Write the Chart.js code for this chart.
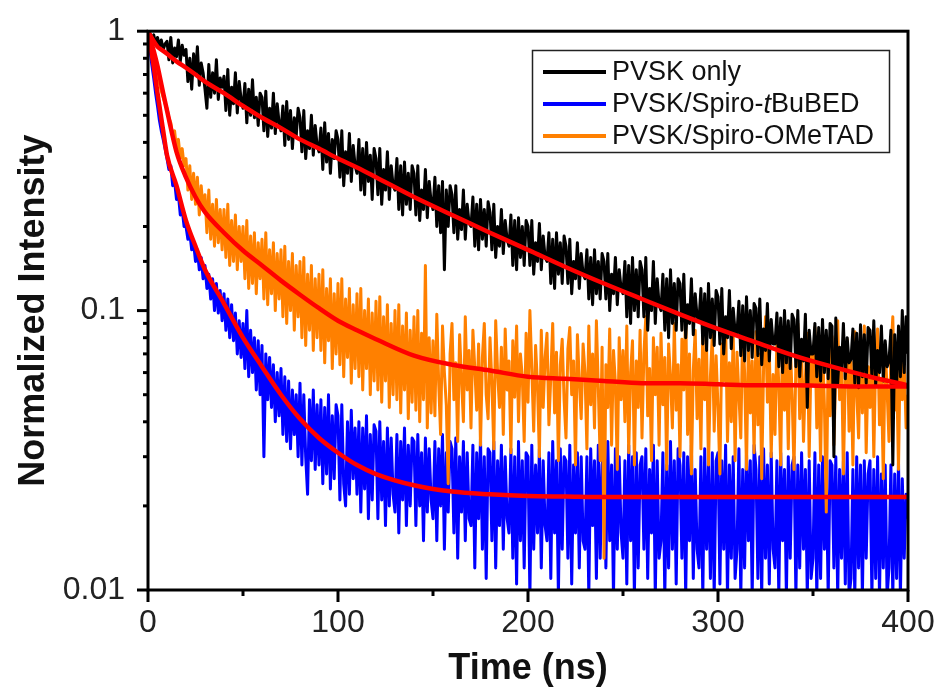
<!DOCTYPE html>
<html>
<head>
<meta charset="utf-8">
<title>PL decay</title>
<script src="https://cdn.jsdelivr.net/npm/chart.js@4.4.1/dist/chart.umd.min.js"></script>
<style>
  html, body { margin: 0; padding: 0; background: #fff; }
</style>
</head>
<body>
<canvas id="decayChart" width="941" height="695"></canvas>
<script>
// --- Data (one value per ns) ---
const sampleStep = 1;

const pvskOnly = [
  1.00, 0.98, 0.94, 0.97, 0.90, 0.95, 0.88, 0.93, 0.86, 0.90,
  0.92, 0.79, 0.95, 0.77, 0.87, 0.81, 0.93, 0.78, 0.89, 0.82,
  0.86, 0.66, 0.80, 0.62, 0.83, 0.70, 0.88, 0.64, 0.77, 0.71,
  0.62, 0.53, 0.76, 0.58, 0.71, 0.60, 0.79, 0.57, 0.68, 0.63,
  0.69, 0.52, 0.73, 0.50, 0.63, 0.55, 0.71, 0.51, 0.66, 0.57,
  0.53, 0.65, 0.47, 0.62, 0.50, 0.67, 0.49, 0.58, 0.46, 0.60,
  0.58, 0.44, 0.61, 0.42, 0.53, 0.45, 0.60, 0.43, 0.55, 0.47,
  0.44, 0.54, 0.39, 0.56, 0.41, 0.52, 0.38, 0.49, 0.42, 0.53,
  0.49, 0.37, 0.52, 0.35, 0.44, 0.38, 0.50, 0.36, 0.46, 0.39,
  0.37, 0.45, 0.32, 0.47, 0.34, 0.43, 0.31, 0.41, 0.35, 0.44,
  0.41, 0.30, 0.44, 0.28, 0.37, 0.31, 0.43, 0.29, 0.39, 0.33,
  0.31, 0.41, 0.27, 0.38, 0.26, 0.40, 0.29, 0.36, 0.25, 0.38,
  0.35, 0.26, 0.38, 0.24, 0.32, 0.27, 0.37, 0.25, 0.33, 0.28,
  0.27, 0.35, 0.23, 0.33, 0.22, 0.34, 0.24, 0.31, 0.23, 0.33,
  0.31, 0.22, 0.33, 0.21, 0.27, 0.23, 0.32, 0.215, 0.29, 0.245,
  0.23, 0.30, 0.20, 0.28, 0.19, 0.29, 0.14, 0.27, 0.20, 0.28,
  0.26, 0.19, 0.28, 0.18, 0.23, 0.195, 0.27, 0.18, 0.24, 0.205,
  0.20, 0.255, 0.17, 0.24, 0.165, 0.25, 0.18, 0.23, 0.17, 0.245,
  0.225, 0.165, 0.24, 0.155, 0.20, 0.17, 0.23, 0.16, 0.21, 0.18,
  0.17, 0.22, 0.145, 0.21, 0.14, 0.215, 0.155, 0.20, 0.145, 0.21,
  0.20, 0.145, 0.21, 0.135, 0.175, 0.15, 0.205, 0.14, 0.185, 0.155,
  0.15, 0.19, 0.125, 0.18, 0.12, 0.19, 0.135, 0.175, 0.125, 0.185,
  0.17, 0.125, 0.18, 0.115, 0.15, 0.13, 0.175, 0.12, 0.16, 0.135,
  0.13, 0.165, 0.11, 0.155, 0.105, 0.165, 0.115, 0.15, 0.11, 0.16,
  0.15, 0.11, 0.16, 0.10, 0.135, 0.115, 0.155, 0.105, 0.14, 0.12,
  0.115, 0.15, 0.095, 0.145, 0.09, 0.155, 0.10, 0.14, 0.095, 0.15,
  0.14, 0.095, 0.155, 0.085, 0.12, 0.10, 0.15, 0.09, 0.13, 0.105,
  0.10, 0.135, 0.085, 0.13, 0.08, 0.14, 0.09, 0.125, 0.085, 0.13,
  0.125, 0.085, 0.135, 0.08, 0.105, 0.09, 0.13, 0.082, 0.115, 0.095,
  0.092, 0.12, 0.076, 0.115, 0.072, 0.125, 0.08, 0.11, 0.075, 0.118,
  0.112, 0.076, 0.12, 0.07, 0.095, 0.08, 0.118, 0.073, 0.102, 0.084,
  0.083, 0.108, 0.069, 0.104, 0.066, 0.112, 0.072, 0.10, 0.068, 0.106,
  0.102, 0.069, 0.11, 0.064, 0.086, 0.072, 0.106, 0.066, 0.093, 0.076,
  0.076, 0.098, 0.063, 0.094, 0.06, 0.10, 0.065, 0.092, 0.062, 0.097,
  0.093, 0.063, 0.10, 0.058, 0.079, 0.066, 0.097, 0.045, 0.085, 0.07,
  0.07, 0.09, 0.058, 0.087, 0.056, 0.093, 0.06, 0.085, 0.057, 0.09,
  0.088, 0.03, 0.094, 0.055, 0.074, 0.062, 0.09, 0.057, 0.08, 0.065,
  0.067, 0.086, 0.055, 0.083, 0.053, 0.089, 0.058, 0.082, 0.055, 0.087,
  0.085, 0.058, 0.092, 0.054, 0.072, 0.06, 0.088, 0.056, 0.078, 0.063,
  0.066, 0.085, 0.028, 0.082, 0.054, 0.088, 0.058, 0.10, 0.06, 0.095,
  0.07
];

const pvskTbubed = [
  1.00, 0.86, 0.76, 0.68, 0.60, 0.54, 0.48, 0.44, 0.41, 0.38,
  0.35, 0.32, 0.33, 0.28, 0.29, 0.25, 0.26, 0.22, 0.23, 0.20,
  0.20, 0.18, 0.19, 0.165, 0.175, 0.15, 0.165, 0.14, 0.155, 0.13,
  0.145, 0.12, 0.135, 0.11, 0.13, 0.10, 0.125, 0.098, 0.118, 0.092,
  0.115, 0.085, 0.11, 0.08, 0.105, 0.078, 0.098, 0.07, 0.092, 0.068,
  0.09, 0.062, 0.10, 0.058, 0.085, 0.06, 0.08, 0.052, 0.078, 0.05,
  0.075, 0.03, 0.07, 0.048, 0.068, 0.045, 0.064, 0.04, 0.06, 0.042,
  0.062, 0.036, 0.058, 0.034, 0.056, 0.032, 0.052, 0.036, 0.05, 0.03,
  0.055, 0.028, 0.05, 0.03, 0.022, 0.048, 0.029, 0.052, 0.027, 0.046,
  0.028, 0.048, 0.024, 0.045, 0.026, 0.05, 0.023, 0.042, 0.025, 0.046,
  0.042, 0.021, 0.046, 0.024, 0.02, 0.04, 0.022, 0.044, 0.025, 0.038,
  0.022, 0.04, 0.019, 0.038, 0.023, 0.042, 0.018, 0.036, 0.021, 0.039,
  0.037, 0.018, 0.04, 0.021, 0.034, 0.017, 0.038, 0.02, 0.035, 0.022,
  0.019, 0.036, 0.016, 0.034, 0.021, 0.038, 0.017, 0.033, 0.02, 0.035,
  0.034, 0.017, 0.036, 0.02, 0.031, 0.015, 0.035, 0.019, 0.032, 0.021,
  0.018, 0.034, 0.015, 0.032, 0.02, 0.036, 0.014, 0.031, 0.019, 0.034,
  0.032, 0.016, 0.035, 0.013, 0.03, 0.019, 0.034, 0.015, 0.031, 0.018,
  0.017, 0.033, 0.012, 0.031, 0.018, 0.035, 0.014, 0.03, 0.011, 0.032,
  0.031, 0.015, 0.034, 0.012, 0.029, 0.017, 0.033, 0.014, 0.03, 0.018,
  0.016, 0.032, 0.013, 0.03, 0.0105, 0.034, 0.015, 0.029, 0.012, 0.031,
  0.03, 0.0095, 0.033, 0.014, 0.028, 0.016, 0.032, 0.012, 0.029, 0.017,
  0.015, 0.031, 0.011, 0.034, 0.016, 0.029, 0.0095, 0.032, 0.014, 0.03,
  0.029, 0.013, 0.033, 0.0105, 0.028, 0.016, 0.031, 0.012, 0.03, 0.015,
  0.014, 0.03, 0.0095, 0.032, 0.017, 0.029, 0.011, 0.033, 0.013, 0.028,
  0.031, 0.012, 0.034, 0.015, 0.028, 0.0095, 0.032, 0.014, 0.03, 0.016,
  0.013, 0.029, 0.0105, 0.033, 0.015, 0.03, 0.0095, 0.031, 0.012, 0.028,
  0.03, 0.014, 0.032, 0.011, 0.027, 0.016, 0.033, 0.0095, 0.029, 0.013,
  0.015, 0.031, 0.0095, 0.028, 0.012, 0.034, 0.014, 0.029, 0.0105, 0.032,
  0.028, 0.013, 0.031, 0.0095, 0.03, 0.015, 0.033, 0.011, 0.027, 0.014,
  0.012, 0.03, 0.0095, 0.032, 0.014, 0.028, 0.011, 0.031, 0.0095, 0.029,
  0.031, 0.0105, 0.029, 0.014, 0.033, 0.0095, 0.028, 0.013, 0.03, 0.011,
  0.014, 0.032, 0.0095, 0.027, 0.012, 0.031, 0.015, 0.029, 0.0095, 0.033,
  0.027, 0.011, 0.03, 0.0095, 0.032, 0.013, 0.028, 0.0105, 0.031, 0.014,
  0.012, 0.029, 0.0095, 0.031, 0.015, 0.027, 0.0095, 0.03, 0.013, 0.028,
  0.03, 0.0095, 0.028, 0.012, 0.031, 0.014, 0.027, 0.0095, 0.029, 0.011,
  0.013, 0.031, 0.0095, 0.028, 0.011, 0.03, 0.014, 0.026, 0.0095, 0.029,
  0.028, 0.012, 0.03, 0.0095, 0.027, 0.013, 0.029, 0.0105, 0.031, 0.0095,
  0.011, 0.027, 0.0095, 0.03, 0.012, 0.028, 0.0095, 0.029, 0.013, 0.026,
  0.029, 0.0095, 0.027, 0.011, 0.03, 0.0095, 0.026, 0.012, 0.028, 0.0095,
  0.012, 0.028, 0.0095, 0.026, 0.011, 0.029, 0.0095, 0.025, 0.013, 0.022,
  0.018
];

const pvskOmetad = [
  1.00, 0.93, 0.86, 0.80, 0.74, 0.70, 0.65, 0.61, 0.58, 0.55,
  0.53, 0.49, 0.47, 0.42, 0.44, 0.38, 0.41, 0.35, 0.38, 0.33,
  0.35, 0.27, 0.33, 0.25, 0.31, 0.24, 0.30, 0.22, 0.28, 0.23,
  0.26, 0.19, 0.27, 0.18, 0.24, 0.17, 0.25, 0.175, 0.23, 0.165,
  0.23, 0.155, 0.24, 0.145, 0.21, 0.15, 0.22, 0.14, 0.20, 0.15,
  0.20, 0.13, 0.21, 0.12, 0.185, 0.125, 0.19, 0.115, 0.175, 0.13,
  0.18, 0.11, 0.19, 0.105, 0.165, 0.115, 0.175, 0.10, 0.16, 0.11,
  0.165, 0.095, 0.17, 0.09, 0.15, 0.10, 0.16, 0.085, 0.145, 0.095,
  0.15, 0.08, 0.155, 0.075, 0.135, 0.085, 0.145, 0.072, 0.13, 0.08,
  0.135, 0.072, 0.14, 0.065, 0.12, 0.078, 0.13, 0.062, 0.115, 0.07,
  0.125, 0.064, 0.13, 0.058, 0.11, 0.068, 0.12, 0.055, 0.105, 0.062,
  0.115, 0.058, 0.12, 0.052, 0.10, 0.062, 0.11, 0.05, 0.098, 0.056,
  0.108, 0.052, 0.112, 0.047, 0.095, 0.056, 0.105, 0.045, 0.09, 0.05,
  0.10, 0.048, 0.105, 0.043, 0.088, 0.052, 0.098, 0.041, 0.085, 0.047,
  0.095, 0.044, 0.10, 0.04, 0.083, 0.048, 0.145, 0.038, 0.08, 0.043,
  0.078, 0.042, 0.097, 0.055, 0.036, 0.088, 0.06, 0.046, 0.024, 0.07,
  0.09, 0.048, 0.065, 0.034, 0.082, 0.057, 0.04, 0.095, 0.052, 0.072,
  0.038, 0.085, 0.062, 0.044, 0.076, 0.033, 0.068, 0.09, 0.05, 0.041,
  0.08, 0.055, 0.032, 0.092, 0.06, 0.045, 0.074, 0.036, 0.086, 0.052,
  0.066, 0.031, 0.078, 0.049, 0.088, 0.04, 0.07, 0.058, 0.034, 0.083,
  0.047, 0.10, 0.062, 0.037, 0.075, 0.054, 0.03, 0.085, 0.045, 0.068,
  0.083, 0.039, 0.058, 0.09, 0.043, 0.071, 0.029, 0.064, 0.079, 0.048,
  0.035, 0.073, 0.087, 0.05, 0.066, 0.028, 0.082, 0.056, 0.041, 0.076,
  0.06, 0.032, 0.088, 0.046, 0.07, 0.038, 0.092, 0.053, 0.029, 0.074,
  0.013, 0.064, 0.045, 0.086, 0.033, 0.072, 0.055, 0.027, 0.08, 0.048,
  0.072, 0.04, 0.088, 0.031, 0.06, 0.078, 0.028, 0.066, 0.045, 0.085,
  0.035, 0.07, 0.095, 0.042, 0.062, 0.029, 0.08, 0.05, 0.074, 0.033,
  0.083, 0.046, 0.068, 0.027, 0.076, 0.058, 0.038, 0.09, 0.044, 0.064,
  0.03, 0.079, 0.052, 0.10, 0.036, 0.07, 0.026, 0.061, 0.085, 0.041,
  0.067, 0.032, 0.087, 0.048, 0.073, 0.028, 0.058, 0.082, 0.037, 0.069,
  0.045, 0.026, 0.076, 0.056, 0.092, 0.034, 0.065, 0.04, 0.083, 0.029,
  0.071, 0.05, 0.035, 0.088, 0.06, 0.027, 0.078, 0.043, 0.066, 0.031,
  0.084, 0.039, 0.07, 0.025, 0.063, 0.095, 0.047, 0.074, 0.03, 0.059,
  0.036, 0.08, 0.054, 0.028, 0.086, 0.044, 0.068, 0.032, 0.077, 0.05,
  0.027, 0.065, 0.09, 0.041, 0.072, 0.034, 0.058, 0.083, 0.03, 0.069,
  0.055, 0.087, 0.038, 0.064, 0.029, 0.076, 0.046, 0.019, 0.071, 0.042,
  0.081, 0.033, 0.062, 0.092, 0.048, 0.07, 0.026, 0.058, 0.079, 0.037,
  0.066, 0.028, 0.084, 0.051, 0.035, 0.074, 0.043, 0.088, 0.031, 0.063,
  0.045, 0.078, 0.03, 0.068, 0.086, 0.039, 0.057, 0.025, 0.075, 0.052,
  0.034, 0.07, 0.095, 0.044, 0.062, 0.027, 0.08, 0.048, 0.066, 0.038,
  0.05
];

// fitted decays (red curves)
const fitTimes = [0, 3, 5, 8, 10, 15, 20, 25, 30, 40, 50, 60, 70, 80, 90, 100,
                  110, 120, 140, 160, 180, 200, 220, 240, 260, 280, 300, 320, 340, 360, 380, 400];
const fitPvskOnly = [1.0, 0.92, 0.88, 0.85, 0.83, 0.78, 0.74, 0.70, 0.66, 0.60, 0.54, 0.49, 0.45, 0.41, 0.38, 0.35,
                     0.325, 0.30, 0.255, 0.22, 0.19, 0.165, 0.143, 0.125, 0.11, 0.097, 0.086, 0.077, 0.069, 0.063, 0.058, 0.054];
const fitOmetad   = [1.0, 0.85, 0.75, 0.60, 0.52, 0.37, 0.30, 0.255, 0.225, 0.19, 0.164, 0.145, 0.128, 0.114, 0.102, 0.092,
                     0.085, 0.079, 0.069, 0.064, 0.061, 0.058, 0.057, 0.056, 0.055, 0.055, 0.0545, 0.054, 0.054, 0.0537, 0.0535, 0.0535];
const fitTbubed   = [1.0, 0.75, 0.60, 0.44, 0.36, 0.28, 0.21, 0.17, 0.14, 0.106, 0.08, 0.063, 0.05, 0.041, 0.035, 0.031,
                     0.028, 0.026, 0.0237, 0.0225, 0.022, 0.0217, 0.0216, 0.0215, 0.0215, 0.0215, 0.0215, 0.0215, 0.0215, 0.0215, 0.0215, 0.0215];

const yTickLabels = ['0.01', '0.1', '1'];
const xTickLabels = [0, 100, 200, 300, 400];

const legendItems = [
  { parts: [['PVSK only', false]], color: '#000000' },
  { parts: [['PVSK/Spiro-', false], ['t', true], ['BuBED', false]], color: '#0000ff' },
  { parts: [['PVSK/Spiro-OMeTAD', false]], color: '#ff8000' }
];

const FONT = "'Liberation Sans', Arial, Helvetica, sans-serif";

function sampled(vals) {
  return vals.map((v, i) => ({ x: i * sampleStep, y: v }));
}
function fitted(vals) {
  return vals.map((v, i) => ({ x: fitTimes[i], y: v }));
}

// --- frame, outward ticks and the boxed legend ---
const decorPlugin = {
  id: 'decor',
  afterDraw(chart) {
    const ctx = chart.ctx;
    const a = chart.chartArea;
    const xs = chart.scales.x, ys = chart.scales.y;
    ctx.save();
    ctx.strokeStyle = '#000';
    ctx.lineWidth = 3;
    ctx.lineCap = 'butt';

    ys.ticks.forEach(t => {
      const p = ys.getPixelForValue(t.value);
      const lg = Math.log10(t.value);
      const major = Math.abs(lg - Math.round(lg)) < 1e-9;
      ctx.beginPath();
      ctx.moveTo(a.left - (major ? 11 : 5), p);
      ctx.lineTo(a.left, p);
      ctx.stroke();
    });
    xs.ticks.forEach(t => {
      const p = xs.getPixelForValue(t.value);
      const major = t.value % 100 === 0;
      ctx.beginPath();
      ctx.moveTo(p, a.bottom);
      ctx.lineTo(p, a.bottom + (major ? 12 : 6));
      ctx.stroke();
    });
    ctx.strokeRect(a.left, a.top, a.right - a.left, a.bottom - a.top);

    // legend
    const lx = 532, ly = 50, lw = 357, lh = 102;
    ctx.lineWidth = 1.5;
    ctx.strokeStyle = '#222';
    ctx.strokeRect(lx + 0.5, ly + 0.5, lw, lh);
    ctx.textBaseline = 'middle';
    ctx.fillStyle = '#111';
    legendItems.forEach((item, i) => {
      const y = ly + 22 + i * 32;
      ctx.strokeStyle = item.color;
      ctx.lineWidth = 4;
      ctx.beginPath();
      ctx.moveTo(543, y);
      ctx.lineTo(606, y);
      ctx.stroke();
      let x = 612;
      item.parts.forEach(([txt, ital]) => {
        ctx.font = (ital ? 'italic ' : '') + '27px ' + FONT;
        ctx.fillText(txt, x, y + 1);
        x += ctx.measureText(txt).width;
      });
    });
    ctx.restore();
  }
};

// --- Chart ---
new Chart(document.getElementById('decayChart').getContext('2d'), {
  type: 'line',
  data: {
    datasets: [
      { label: 'fit PVSK only', data: fitted(fitPvskOnly), borderColor: '#ff0000', borderWidth: 4.5,
        cubicInterpolationMode: 'monotone', order: 1 },
      { label: 'fit OMeTAD', data: fitted(fitOmetad), borderColor: '#ff0000', borderWidth: 4.5,
        cubicInterpolationMode: 'monotone', order: 1 },
      { label: 'fit tBuBED', data: fitted(fitTbubed), borderColor: '#ff0000', borderWidth: 4.5,
        cubicInterpolationMode: 'monotone', order: 1 },
      { label: 'PVSK only', data: sampled(pvskOnly), borderColor: '#000000', borderWidth: 3, order: 2 },
      { label: 'PVSK/Spiro-OMeTAD', data: sampled(pvskOmetad), borderColor: '#ff8000', borderWidth: 3, order: 3 },
      { label: 'PVSK/Spiro-tBuBED', data: sampled(pvskTbubed), borderColor: '#0000ff', borderWidth: 3, order: 4 }
    ]
  },
  options: {
    responsive: false,
    animation: false,
    events: [],
    layout: { padding: { left: 0, top: 30, right: 33, bottom: 0 } },
    elements: {
      point: { radius: 0 },
      line: { tension: 0, borderJoinStyle: 'round', fill: false }
    },
    plugins: { legend: { display: false }, tooltip: { enabled: false } },
    scales: {
      x: {
        type: 'linear', min: 0, max: 400,
        grid: { display: false, drawTicks: true, tickLength: 12 },
        border: { display: false },
        ticks: {
          stepSize: 50, autoSkip: false, maxRotation: 0, padding: 2,
          color: '#222', font: { family: FONT, size: 32 },
          callback: v => xTickLabels.includes(v) ? String(v) : ''
        },
        title: { display: true, text: 'Time (ns)', color: '#111',
                 font: { family: FONT, size: 36, weight: 'bold' }, padding: { top: 0, bottom: 4 } },
        afterFit: s => { s.height = 105; }
      },
      y: {
        type: 'logarithmic', min: 0.01, max: 1,
        grid: { display: false, drawTicks: true, tickLength: 11 },
        border: { display: false },
        ticks: {
          autoSkip: false, padding: 12,
          color: '#222', font: { family: FONT, size: 32 },
          callback: v => {
            const s = String(v);
            return yTickLabels.includes(s) ? s : '';
          }
        },
        title: { display: true, text: 'Normalized Intensity', color: '#111',
                 font: { family: FONT, size: 36, weight: 'bold' }, padding: { top: 12, bottom: 0 } },
        afterFit: s => { s.width = 148; }
      }
    }
  },
  plugins: [decorPlugin]
});
</script>
</body>
</html>
